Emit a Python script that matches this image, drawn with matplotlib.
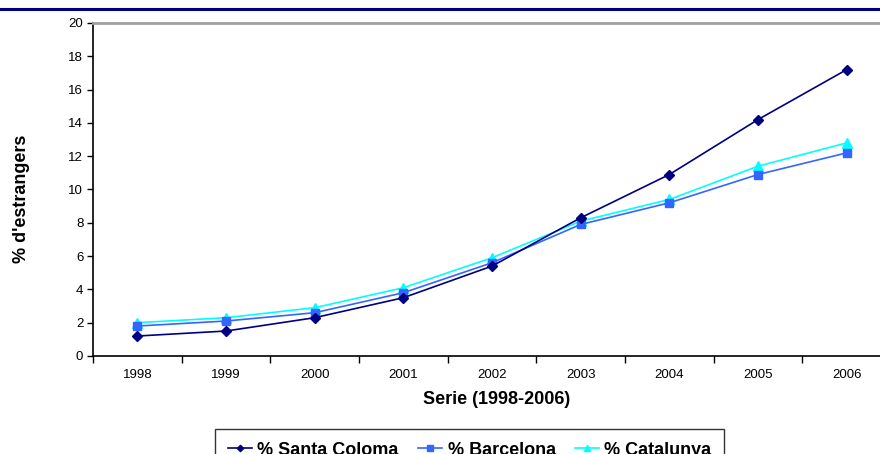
import matplotlib
matplotlib.use("Agg")
import matplotlib.pyplot as plt
from matplotlib.lines import Line2D

plt.rcParams['font.family'] = ['Liberation Sans', 'DejaVu Sans']

years = ['1998', '1999', '2000', '2001', '2002', '2003', '2004', '2005', '2006']
santa_coloma = [1.2, 1.5, 2.3, 3.5, 5.4, 8.3, 10.9, 14.2, 17.2]
barcelona = [1.8, 2.1, 2.6, 3.8, 5.6, 7.9, 9.2, 10.9, 12.2]
catalunya = [2.0, 2.3, 2.9, 4.1, 5.9, 8.1, 9.4, 11.4, 12.8]
series_names = ['% Santa Coloma', '% Barcelona', '% Catalunya']
y_ticks = [0, 2, 4, 6, 8, 10, 12, 14, 16, 18, 20]

W, H = 880, 454
fig = plt.figure(figsize=(W / 100, H / 100), dpi=100)

# top navy rule
fig.add_artist(Line2D([0, 1], [1 - 9 / H, 1 - 9 / H], color='#000080', lw=2.2,
                      transform=fig.transFigure))

left, right, top, bottom = 93, 891, 23, 356
ax = fig.add_axes([left / W, (H - bottom) / H, (right - left) / W, (bottom - top) / H])

x = list(range(len(years)))
c_sc, c_bcn, c_cat = '#000080', '#3366FF', '#00FFFF'
ax.plot(x, santa_coloma, color=c_sc, lw=1.2, marker='D', ms=5, mec=c_sc, mfc=c_sc,
        label=series_names[0], zorder=3)
ax.plot(x, barcelona, color=c_bcn, lw=1.2, marker='s', ms=6, mec=c_bcn, mfc=c_bcn,
        label=series_names[1], zorder=2)
ax.plot(x, catalunya, color=c_cat, lw=1.2, marker='^', ms=7, mec=c_cat, mfc=c_cat,
        label=series_names[2], zorder=1)

ax.set_xlim(-0.5, len(years) - 0.5)
ax.set_ylim(0, 20)
ax.set_yticks(y_ticks)
ax.set_yticklabels([str(v) for v in y_ticks], fontsize=9.5)
ax.set_xticks(x)
ax.set_xticklabels(years, fontsize=9.5)
ax.set_xticks([i - 0.5 for i in range(len(years) + 1)], minor=True)
ax.tick_params(axis='x', which='major', length=0, pad=9)
ax.tick_params(axis='x', which='minor', length=5, width=1, color='black', direction='out')
ax.tick_params(axis='y', length=4, width=1, color='black', direction='out', pad=3)

for s in ['left', 'bottom']:
    ax.spines[s].set_color('black')
    ax.spines[s].set_linewidth(1.2)
ax.spines['top'].set_color('#a0a0a0')
ax.spines['top'].set_linewidth(2)
ax.spines['right'].set_visible(False)

fig.text(21 / W, 1 - 199 / H, "% d'estrangers", rotation=90, fontsize=13,
         fontweight='bold', ha='center', va='center')
fig.text(497 / W, 1 - 400 / H, "Serie (1998-2006)", fontsize=13,
         fontweight='bold', ha='center', va='center')

leg = fig.legend(loc='upper left', bbox_to_anchor=(215 / W, 1 - 429 / H), ncol=3,
                 prop={'weight': 'bold', 'size': 13}, frameon=True, fancybox=False,
                 edgecolor='black', handlelength=1.35, columnspacing=1.05,
                 handletextpad=0.3, borderpad=0.7, markerscale=0.65,
                 borderaxespad=0)
leg.get_frame().set_linewidth(1.0)

fig.savefig('out.png', dpi=100)
